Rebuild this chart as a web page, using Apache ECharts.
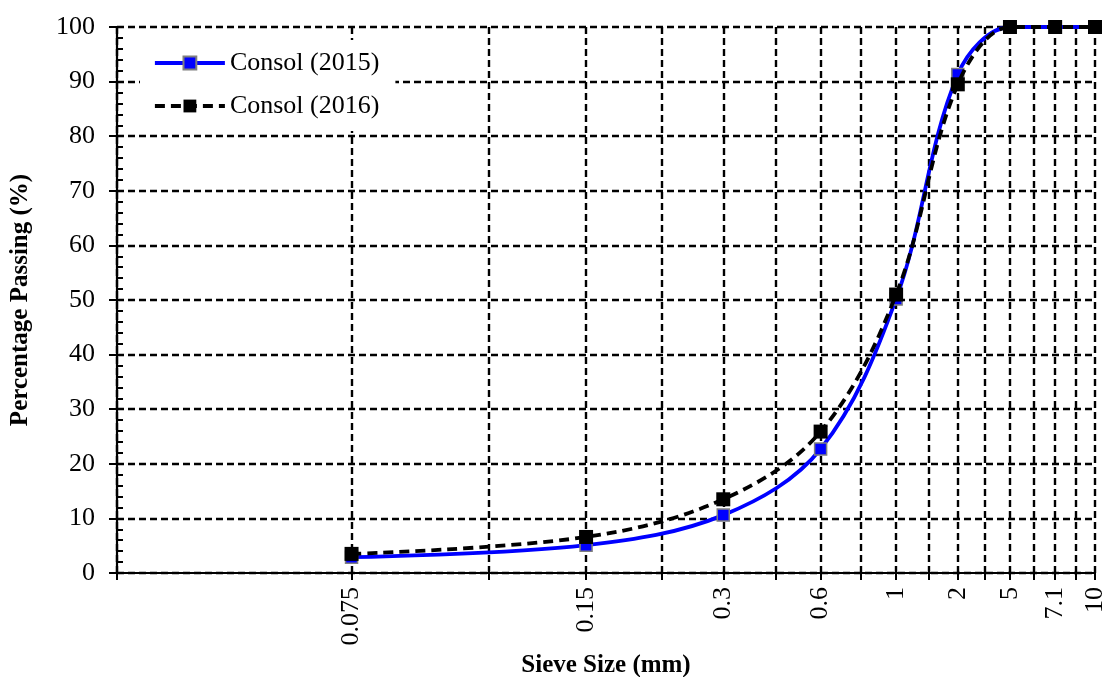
<!DOCTYPE html>
<html>
<head>
<meta charset="utf-8">
<title>Sieve analysis – Consol</title>
<script src="https://cdn.jsdelivr.net/npm/echarts@6/dist/echarts.min.js"></script>
<style>
  html, body { margin: 0; padding: 0; background: #ffffff; }
  #chart { width: 1102px; height: 677px; }
</style>
</head>
<body>
<div id="chart"></div>
<script>
// Sieve sizes (mm) shown under the axis
const sieveLabels = ['0.075', '0.15', '0.3', '0.6', '1', '2', '5', '7.1', '10'];
// Position of each sieve on the logarithmic plotting axis
const sieveAxisValue = [2, 4, 6, 8, 10, 12, 14, 16, 18];
// Grid line positions on the plotting axis
const gridAxisValues = [1, 2, 3, 4, 5, 6, 7, 8, 9, 10, 11, 12, 13, 14, 15, 16, 17, 18];

// Percentage passing for each sieve
const passing2015 = [2.9, 5.1, 10.6, 22.7, 50.2, 91.3, 100, 100, 100];
const passing2016 = [3.5, 6.6, 13.5, 25.9, 51.0, 89.5, 100, 100, 100];

const yTicks = { min: 0, max: 100, interval: 10 };

const serif = '"Liberation Serif", "Times New Roman", serif';

function toPoints(values) {
  return values.map((v, i) => [sieveAxisValue[i], v]);
}

const labelByPos = {};
sieveAxisValue.forEach((p, i) => { labelByPos[p] = sieveLabels[i]; });

const gridLine = { show: true, lineStyle: { color: '#000', width: 2.4, type: [7, 4] } };

const chart = echarts.init(document.getElementById('chart'), null, { renderer: 'canvas' });

chart.setOption({
  animation: false,
  backgroundColor: '#ffffff',
  grid: { left: 117, right: 7, top: 27, bottom: 104, containLabel: false, outerBoundsMode: 'none' },
  legend: {
    left: 140,
    top: 40,
    orient: 'vertical',
    backgroundColor: '#ffffff',
    padding: [10, 16, 12, 13],
    itemWidth: 70,
    itemHeight: 16,
    itemGap: 17,
    lineStyle: { width: 3.8 },
    textStyle: { fontFamily: serif, fontSize: 26, color: '#000' },
    data: ['Consol (2015)', 'Consol (2016)']
  },
  xAxis: {
    type: 'log',
    logBase: 10,
    min: 1,
    max: 18,
    name: 'Sieve Size (mm)',
    nameLocation: 'middle',
    nameGap: 78,
    nameTextStyle: { fontFamily: serif, fontSize: 25, fontWeight: 'bold', color: '#000' },
    axisLine: { show: true, onZero: false, lineStyle: { color: '#000', width: 2.2 } },
    axisTick: { show: true, inside: false, length: 7, customValues: gridAxisValues, lineStyle: { color: '#000', width: 2 } },
    axisLabel: {
      show: true,
      rotate: 90,
      margin: 14,
      customValues: sieveAxisValue,
      fontFamily: serif,
      fontSize: 26,
      color: '#000',
      formatter: (v) => labelByPos[Math.round(v)] || ''
    },
    splitLine: gridLine,
    minorTick: { show: false },
    minorSplitLine: { show: false }
  },
  yAxis: {
    type: 'value',
    min: yTicks.min,
    max: yTicks.max,
    interval: yTicks.interval,
    name: 'Percentage Passing (%)',
    nameLocation: 'middle',
    nameGap: 84,
    nameTextStyle: { fontFamily: serif, fontSize: 25, fontWeight: 'bold', color: '#000' },
    axisLine: { show: true, lineStyle: { color: '#000', width: 2.2 } },
    axisTick: { show: true, inside: false, length: 8, lineStyle: { color: '#000', width: 2 } },
    minorTick: { show: true, splitNumber: 5, length: -6, lineStyle: { color: '#000', width: 2 } },
    axisLabel: { margin: 22, fontFamily: serif, fontSize: 26, color: '#000' },
    splitLine: gridLine
  },
  series: [
    {
      name: 'Consol (2015)',
      type: 'line',
      smooth: 0.35,
      data: toPoints(passing2015),
      symbol: 'rect',
      symbolSize: 12,
      lineStyle: { color: '#0000ff', width: 3.8 },
      itemStyle: { color: '#0000ff', borderColor: '#7f7f7f', borderWidth: 1.5 },
      z: 3
    },
    {
      name: 'Consol (2016)',
      type: 'line',
      smooth: 0.35,
      data: toPoints(passing2016),
      symbol: 'rect',
      symbolSize: 14,
      lineStyle: { color: '#000000', width: 3.8, type: [10, 6] },
      itemStyle: { color: '#000000', borderColor: '#000000', borderWidth: 0 },
      z: 4
    }
  ]
});
</script>
</body>
</html>
